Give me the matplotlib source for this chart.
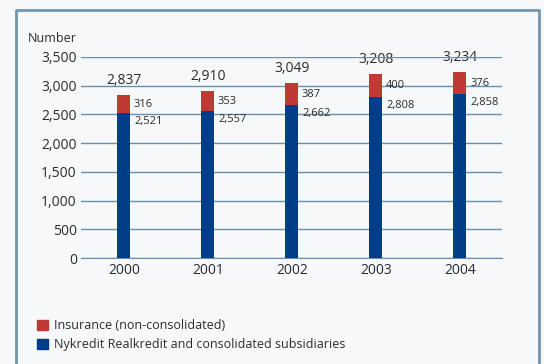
import matplotlib.pyplot as plt
from matplotlib.lines import Line2D
from matplotlib.patches import Patch

years = ['2000', '2001', '2002', '2003', '2004']
nykredit = [2521, 2557, 2662, 2808, 2858]
insurance = [316, 353, 387, 400, 376]
totals = [2837, 2910, 3049, 3208, 3234]

red = '#c03a35'
blue = '#023e87'
grid_col = '#6a8fae'
text_col = '#2b2b2b'
bg = '#f7f8fa'

plt.rcParams['font.family'] = ['Open Sans', 'DejaVu Sans']

fig = plt.figure(figsize=(5.44, 3.64), dpi=100, facecolor=bg)
ax = fig.add_axes([81 / 544, 1 - 258 / 364, (502 - 81) / 544, 201 / 364])
ax.set_facecolor(bg)

# outer frame, open at the bottom
W, H = 544, 364
fx = [16 / W, 16 / W, 539 / W, 539 / W]
fy = [0, 1 - 9.5 / H, 1 - 9.5 / H, 0]
fig.add_artist(Line2D(fx, fy, transform=fig.transFigure, color='#7196b4', lw=2))

x = range(len(years))
ax.bar(x, nykredit, width=0.155, color=blue, zorder=3)
ax.bar(x, insurance, bottom=nykredit, width=0.155, color=red, zorder=3)

ax.set_xlim(-0.51, 4.5)
ax.set_ylim(0, 3500)
ax.set_yticks(range(0, 3501, 500))
ax.set_yticklabels([f'{v:,}' for v in range(0, 3501, 500)])
ax.set_xticks(list(x))
ax.set_xticklabels(years)
ax.yaxis.grid(True, color=grid_col, lw=1, zorder=2)
ax.set_axisbelow(False)
for s in ['top', 'right', 'left']:
    ax.spines[s].set_visible(False)
ax.spines['bottom'].set_color(grid_col)
ax.spines['bottom'].set_zorder(2)
ax.tick_params(length=0, labelsize=10, labelcolor=text_col)
ax.tick_params(axis='y', pad=3)
ax.tick_params(axis='x', pad=3.5)

for i in x:
    ax.annotate(f'{totals[i]:,}', (i, totals[i]), xytext=(0, 5), textcoords='offset points',
                ha='center', va='bottom', fontsize=10, color=text_col, zorder=1)
    ax.annotate(f'{insurance[i]:,}', (i + 0.12, nykredit[i] + insurance[i] / 2), xytext=(0, 0),
                textcoords='offset points', ha='left', va='center', fontsize=8, color=text_col)
    ax.annotate(f'{nykredit[i]:,}', (i + 0.12, nykredit[i]), xytext=(0, -2),
                textcoords='offset points', ha='left', va='top', fontsize=8, color=text_col)

fig.text(28 / W, 1 - 38 / H, 'Number', fontsize=9, color=text_col, va='center', ha='left')

handles = [Patch(color=red), Patch(color=blue)]
fig.legend(handles, ['Insurance (non-consolidated)', 'Nykredit Realkredit and consolidated subsidiaries'],
           loc='upper left', bbox_to_anchor=(26 / W, 1 - 308 / H), frameon=False, fontsize=9,
           handlelength=0.85, handleheight=0.85, handletextpad=0.5, labelspacing=0.45,
           labelcolor=text_col)

fig.savefig('out.png', dpi=100, facecolor=bg)
